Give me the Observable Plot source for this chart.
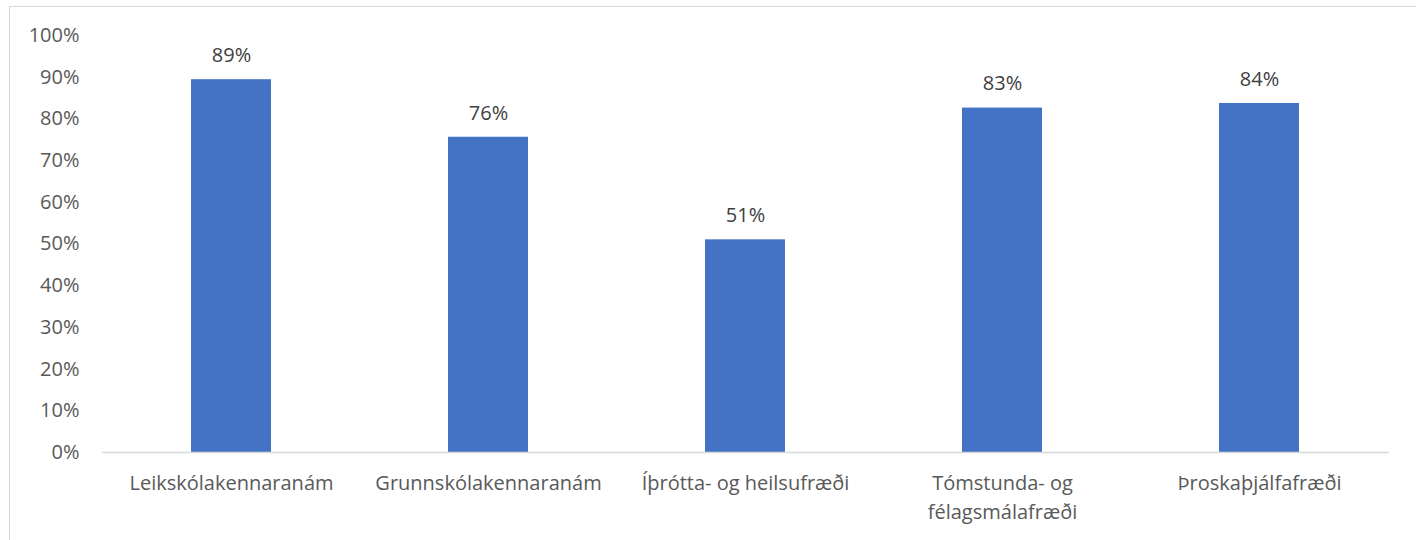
<!DOCTYPE html>
<html>
<head>
<meta charset="utf-8">
<script src="https://cdn.jsdelivr.net/npm/d3@7"></script>
<script src="https://cdn.jsdelivr.net/npm/@observablehq/plot@0.6"></script>
<style>
  html, body { margin: 0; padding: 0; background: #fff; overflow: hidden; }
  #wrap { position: relative; width: 1416px; height: 540px; }
  #frame { position: absolute; left: 9px; top: 6px; width: 1500px; height: 600px; border: 1.3px solid #d9d9d9; box-sizing: border-box; pointer-events: none; }
  #chart { position: absolute; left: 0; top: 0; }
</style>
</head>
<body>
<div id="wrap"><div id="frame"></div><div id="chart"></div></div>
<script>
const categories = ["Leikskólakennaranám", "Grunnskólakennaranám", "Íþrótta- og heilsufræði", "Tómstunda- og félagsmálafræði", "Þroskaþjálfafræði"];
const tickLabels = ["Leikskólakennaranám", "Grunnskólakennaranám", "Íþrótta- og heilsufræði", "Tómstunda- og\nfélagsmálafræði", "Þroskaþjálfafræði"];
const values = [0.894, 0.756, 0.51, 0.826, 0.837];
const yTicks = [0, 0.1, 0.2, 0.3, 0.4, 0.5, 0.6, 0.7, 0.8, 0.9, 1.0];

const data = categories.map((c, i) => ({category: c, value: values[i]}));
const labelOf = new Map(categories.map((c, i) => [c, tickLabels[i]]));
const font = "'Open Sans', Lato, sans-serif";

const chart = Plot.plot({
  width: 1416,
  height: 540,
  marginLeft: 102,
  marginRight: 27,
  marginTop: 35,
  marginBottom: 88,
  style: {fontFamily: font, fontSize: "20px", color: "#595959", background: "transparent"},
  x: {domain: categories, paddingInner: 0.687, paddingOuter: 0.343, label: null},
  y: {domain: [0, 1], label: null},
  marks: [
    Plot.axisX({tickSize: 0, tickPadding: 17, tickFormat: d => labelOf.get(d), lineHeight: 1.45, fontSize: 20, fill: "#595959"}),
    Plot.axisY({ticks: yTicks, tickSize: 0, tickPadding: 23, tickFormat: d => Math.round(d * 100) + "%", fontSize: 20, fill: "#595959"}),
    Plot.barY(data, {x: "category", y: "value", fill: "#4472C4"}),
    Plot.ruleY([0], {stroke: "#d9d9d9", strokeWidth: 1.5}),
    Plot.text(data, {x: "category", y: "value", text: d => Math.round(d.value * 100) + "%", dy: -24, fontSize: 20, fill: "#404040"})
  ]
});
document.getElementById("chart").appendChild(chart);
</script>
</body>
</html>
